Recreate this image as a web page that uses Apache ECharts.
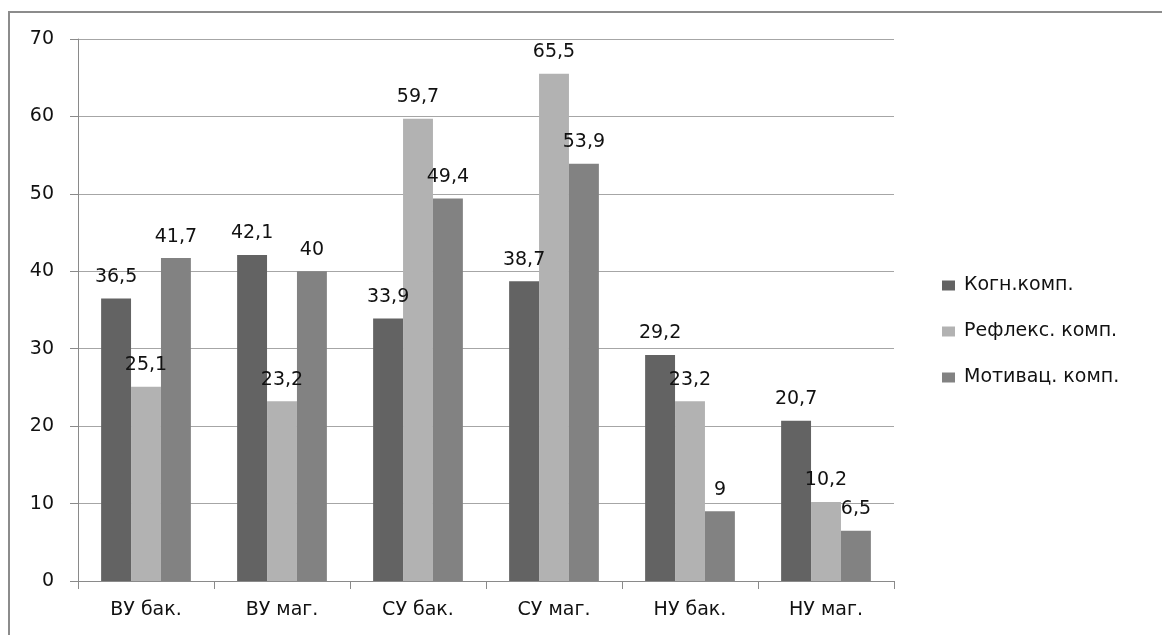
<!DOCTYPE html>
<html>
<head>
<meta charset="utf-8">
<script src="https://cdn.jsdelivr.net/npm/echarts@6/dist/echarts.min.js"></script>
<style>
  html, body { margin: 0; padding: 0; background: #ffffff; }
  #chart { width: 1162px; height: 635px; }
</style>
</head>
<body>
<div id="chart"></div>
<script>
// Categories (groups of students) and component scores
const categories = ['ВУ бак.', 'ВУ маг.', 'СУ бак.', 'СУ маг.', 'НУ бак.', 'НУ маг.'];
const seriesNames = ['Когн.комп.', 'Рефлекс. комп.', 'Мотивац. комп.'];
const cognitive = [36.5, 42.1, 33.9, 38.7, 29.2, 20.7];
const reflexive = [25.1, 23.2, 59.7, 65.5, 23.2, 10.2];
const motivational = [41.7, 40, 49.4, 53.9, 9, 6.5];
const yTicks = [0, 10, 20, 30, 40, 50, 60, 70];

const FONT = 'DejaVu Sans';
const FS = 19;
const colors = ['#636363', '#b2b2b2', '#828282'];

const fmt = v => String(v).replace('.', ',');

function barSeries(name, values, color) {
  return {
    name: name,
    type: 'bar',
    data: values,
    barGap: '0%',
    barCategoryGap: '34%',
    itemStyle: { color: color },
    label: {
      show: true,
      position: 'top',
      distance: 12,
      color: '#111111',
      fontFamily: FONT,
      fontSize: FS,
      formatter: p => fmt(p.value)
    },
    emphasis: { disabled: true }
  };
}

const chart = echarts.init(document.getElementById('chart'), null, { renderer: 'canvas' });
chart.setOption({
  animation: false,
  backgroundColor: '#ffffff',
  // outer frame: only the top and left edges fall inside the page
  graphic: [{
    type: 'polyline',
    shape: { points: [[9, 640], [9, 12], [1170, 12]] },
    style: { fill: null, stroke: '#8c8c8c', lineWidth: 2 },
    silent: true
  }],
  grid: { left: 78, right: 268, top: 39, bottom: 54, containLabel: false },
  legend: {
    orient: 'vertical',
    left: 937,
    top: 271,
    itemWidth: 13,
    itemHeight: 10,
    itemGap: 27,
    icon: 'rect',
    data: seriesNames,
    textStyle: { fontFamily: FONT, fontSize: FS, color: '#111111', padding: [0, 0, 0, 4] }
  },
  xAxis: {
    type: 'category',
    data: categories,
    axisLine: { show: true, lineStyle: { color: '#8a8a8a', width: 1 } },
    axisTick: { show: true, length: 8, inside: false, alignWithLabel: false, lineStyle: { color: '#8a8a8a' } },
    axisLabel: { margin: 20, color: '#111111', fontFamily: FONT, fontSize: FS },
    splitLine: { show: false }
  },
  yAxis: {
    type: 'value',
    min: yTicks[0],
    max: yTicks[yTicks.length - 1],
    interval: 10,
    axisLine: { show: true, lineStyle: { color: '#8a8a8a', width: 1 } },
    axisTick: { show: true, length: 8, lineStyle: { color: '#8a8a8a' } },
    axisLabel: { margin: 24, color: '#111111', fontFamily: FONT, fontSize: FS },
    splitLine: { show: true, lineStyle: { color: '#a6a6a6', width: 1 } }
  },
  series: [
    barSeries(seriesNames[0], cognitive, colors[0]),
    barSeries(seriesNames[1], reflexive, colors[1]),
    barSeries(seriesNames[2], motivational, colors[2])
  ]
});
</script>
</body>
</html>
